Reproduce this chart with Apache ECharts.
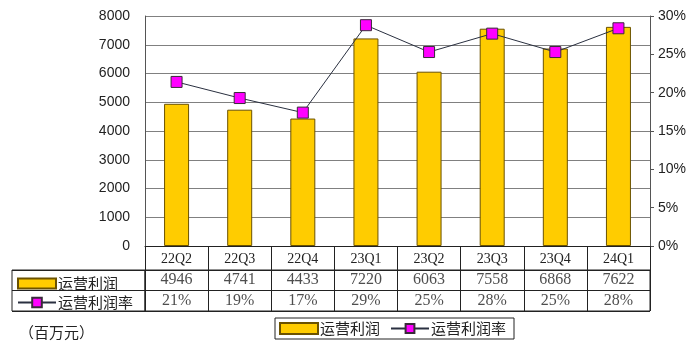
<!DOCTYPE html>
<html>
<head>
<meta charset="utf-8">
<script src="https://cdn.jsdelivr.net/npm/echarts@6/dist/echarts.min.js"></script>
<style>html,body{margin:0;padding:0;background:#fff}#c{width:700px;height:359px}</style>
</head>
<body>
<div id="c"></div>
<script>
var categories = ['22Q2','22Q3','22Q4','23Q1','23Q2','23Q3','23Q4','24Q1'];
var profit = [4946, 4741, 4433, 7220, 6063, 7558, 6868, 7622];
var rate = [21.4, 19.3, 17.4, 28.8, 25.3, 27.7, 25.3, 28.4];
var rateLabels = ['21%','19%','17%','29%','25%','28%','25%','28%'];
var leftTicks = {min: 0, max: 8000, interval: 1000};
var rightTicks = {min: 0, max: 30, interval: 5};
var rowNames = ['运营利润', '运营利润率'];

var FONT = '"Liberation Serif","Noto Sans CJK SC",serif';
var CJK = '"Noto Sans CJK SC",sans-serif';

var chart = echarts.init(document.getElementById('c'));
var tableData = [];
profit.forEach(function (v, i) { tableData.push([i, 0, String(v)]); });
rateLabels.forEach(function (v, i) { tableData.push([i, 1, v]); });

var legendText = {fontSize: 15, color: '#222', fontFamily: CJK, padding: [0, 0, 0, -3]};

chart.setOption({
  animation: false,
  backgroundColor: '#fff',
  title: {text: '（百万元）', left: 14, top: 320, textStyle: {fontSize: 15, fontWeight: 'normal', color: '#222', fontFamily: CJK}},
  grid: [
    {left: 145, right: 50, top: 16, height: 230},
    {left: 145, right: 50, top: 270, height: 41, show: true, borderColor: '#222', borderWidth: 1},
    {left: 12, width: 133, top: 270, height: 41, show: true, borderColor: '#222', borderWidth: 1}
  ],
  legend: [
    {data: [{name: '运营利润', icon: 'rect'}], left: 13, top: 274, padding: [2, 0, 2, 4], itemWidth: 38, itemHeight: 10, itemGap: 0,
      textStyle: legendText},
    {data: ['运营利润率'], left: 13, top: 293, padding: [2, 0, 2, 4], itemWidth: 38, itemHeight: 12, itemGap: 0,
      textStyle: legendText},
    {data: [{name: '运营利润', icon: 'rect'}, '运营利润率'], left: 275, top: 318, padding: [3, 8, 3, 4], itemWidth: 38, itemHeight: 11, itemGap: 10,
      borderColor: '#222', borderWidth: 1,
      textStyle: legendText}
  ],
  xAxis: [
    {type: 'category', gridIndex: 0, data: categories,
      axisLine: {show: true, lineStyle: {color: '#222'}},
      axisTick: {show: true, length: 24, lineStyle: {color: '#222'}},
      axisLabel: {margin: 6, fontSize: 14, color: '#222', fontFamily: FONT},
      splitLine: {show: false}},
    {type: 'category', gridIndex: 1, data: categories,
      axisLine: {show: false}, axisTick: {show: false}, axisLabel: {show: false},
      splitLine: {show: true, lineStyle: {color: '#222'}}},
    {type: 'value', gridIndex: 2, show: false}
  ],
  yAxis: [
    {type: 'value', gridIndex: 0, min: leftTicks.min, max: leftTicks.max, interval: leftTicks.interval,
      axisLine: {show: true, lineStyle: {color: '#555'}}, axisTick: {show: false},
      axisLabel: {margin: 15, fontSize: 14, color: '#222', fontFamily: '"Liberation Sans",sans-serif',
        formatter: function (v) { return String(v); }},
      splitLine: {show: true, lineStyle: {color: '#808080'}}},
    {type: 'value', gridIndex: 0, position: 'right', min: rightTicks.min, max: rightTicks.max, interval: rightTicks.interval,
      axisLine: {show: true, lineStyle: {color: '#555'}},
      axisTick: {show: true, length: 4, lineStyle: {color: '#555'}},
      axisLabel: {margin: 8, fontSize: 14, color: '#222', formatter: '{value}%', fontFamily: '"Liberation Sans",sans-serif'},
      splitLine: {show: false}},
    {type: 'category', gridIndex: 1, data: rowNames, inverse: true,
      axisLine: {show: false}, axisTick: {show: false}, axisLabel: {show: false},
      splitLine: {show: true, lineStyle: {color: '#222'}}},
    {type: 'category', gridIndex: 2, data: rowNames, inverse: true,
      axisLine: {show: false}, axisTick: {show: false}, axisLabel: {show: false},
      splitLine: {show: true, lineStyle: {color: '#222'}}}
  ],
  series: [
    {name: '运营利润', type: 'bar', xAxisIndex: 0, yAxisIndex: 0, data: profit, barWidth: 25,
      itemStyle: {color: '#FFCC00', borderColor: '#6b5200', borderWidth: 1}},
    {name: '运营利润率', type: 'line', xAxisIndex: 0, yAxisIndex: 1, data: rate,
      symbol: 'rect', symbolSize: 11,
      itemStyle: {color: '#FF00FF', borderColor: '#3a2a3a', borderWidth: 1},
      lineStyle: {color: '#2a3040', width: 1}},
    {name: 'table', type: 'scatter', xAxisIndex: 1, yAxisIndex: 2, data: tableData, symbolSize: 0, silent: true,
      label: {show: true, position: 'inside', fontSize: 16, color: '#222', fontFamily: FONT,
        formatter: function (p) { return p.value[2]; }}}
  ]
});
</script>
</body>
</html>
